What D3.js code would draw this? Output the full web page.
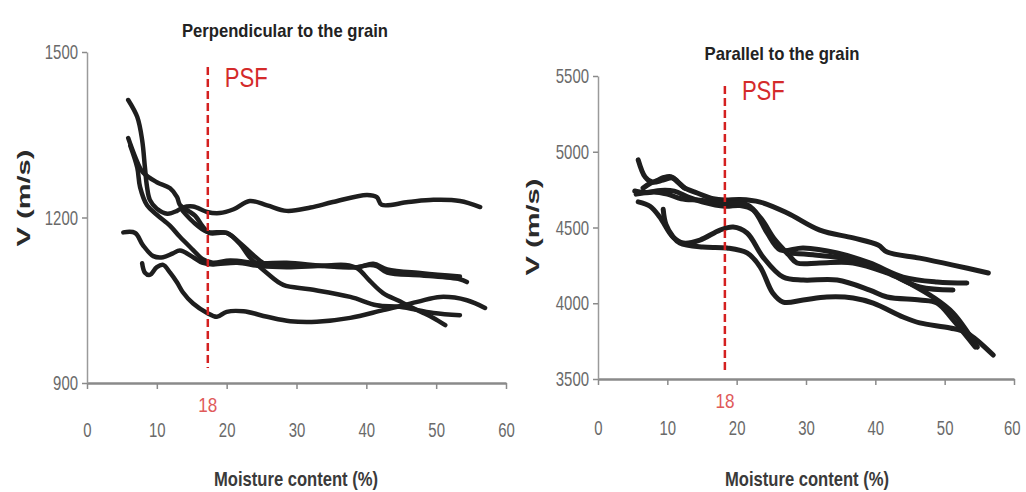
<!DOCTYPE html>
<html>
<head>
<meta charset="utf-8">
<script src="https://cdn.jsdelivr.net/npm/d3@7"></script>
<style>
  html, body { margin: 0; padding: 0; background: #ffffff; }
  svg { display: block; }
</style>
</head>
<body>
<svg id="chart" width="1026" height="492"></svg>
<script>
// ---------- DATA ----------
const xTicks = [0, 10, 20, 30, 40, 50, 60];
const leftYTicks = [900, 1200, 1500];
const rightYTicks = [3500, 4000, 4500, 5000, 5500];
const leftTitle = "Perpendicular to the grain";
const rightTitle = "Parallel to the grain";
const xAxisTitle = "Moisture content (%)";
const yAxisTitle = "V (m/s)";
const psfLabel = "PSF";
const psfValueLabel = "18";
const psfLeftX = 17.3;
const psfRightX = 18.3;

// Perpendicular to the grain — each series is [moisture %, velocity m/s]
const perp1 = [[5.9,1413],[7.2,1382],[7.9,1340],[8.3,1290],[8.6,1255],[9.0,1232],[10.0,1216],[11.5,1207],[12.9,1212],[13.7,1218],[15.2,1220],[17.2,1210],[19.0,1208],[21,1215],[23.3,1230],[25.8,1222],[28.6,1212],[32,1218],[35.2,1228],[40.1,1241],[41.5,1237],[42.2,1223],[46,1228],[49.6,1232],[53.4,1230],[56.3,1219]];
const perp2 = [[5.9,1344],[6.9,1310],[8.0,1282],[10.0,1264],[11.9,1253],[12.9,1237],[13.3,1223],[14.5,1212],[15.5,1203],[16.5,1185],[17.5,1172],[20.0,1172],[21.9,1154],[23.8,1132],[25.8,1114],[29.5,1114],[35,1112],[38.7,1110],[40.5,1114],[41.5,1112],[43,1100],[48,1095],[53.4,1088],[54.4,1083]];
const perp3 = [[6.2,1330],[7.2,1290],[7.6,1255],[8.6,1222],[10.0,1205],[11.9,1185],[13.3,1165],[15.2,1141],[16.5,1125],[18,1118],[20.5,1122],[24.8,1117],[28.6,1118],[34,1112],[38.7,1110],[41,1116],[43,1106],[48,1099],[53.4,1093]];
const perp4 = [[5.2,1173],[6.9,1172],[8.0,1150],[9.5,1130],[10.9,1128],[12.3,1135],[13.3,1140],[15.2,1128],[16.5,1118],[18,1115],[21.5,1118],[24.8,1112],[28.6,1110],[33,1112],[37,1114],[38.7,1108],[40.5,1085],[42.4,1063],[44.8,1048],[46.3,1038],[48,1028],[49.6,1018],[51.3,1005]];
const perp5 = [[7.9,1117],[8.3,1100],[9.0,1096],[10.0,1110],[10.9,1114],[11.9,1100],[12.9,1082],[13.7,1065],[15.2,1044],[17.2,1027],[18.6,1020],[20.0,1029],[22.4,1030],[25.8,1020],[29.1,1012],[32.9,1011],[37.7,1018],[42.4,1032],[47.3,1047],[50.6,1056],[54.4,1050],[57,1036]];
const perp6 = [[13.7,1212],[15.2,1192],[17.2,1174],[20.0,1172],[21.9,1152],[23.3,1128],[25.8,1099],[28.1,1078],[31.9,1070],[37.7,1056],[41.5,1041],[44.8,1038],[49.6,1027],[53.4,1023]];

// Parallel to the grain
const para1 = [[5.8,4946],[6.8,4833],[7.8,4800],[9.4,4813],[10.8,4827],[12.3,4767],[14.3,4728],[16.6,4690],[18.3,4681],[20.5,4685],[23.4,4668],[27.3,4596],[32,4483],[36.8,4431],[40.4,4384],[41.7,4338],[46.4,4298],[51.2,4252],[56.3,4200]];
const para2 = [[5.3,4741],[7,4730],[9,4745],[11,4740],[13,4700],[15,4670],[18.3,4640],[20.5,4645],[22.4,4615],[24.4,4464],[26.3,4351],[29.6,4365],[34.5,4332],[39.2,4266],[44,4173],[48.9,4140],[53.2,4133]];
const para3 = [[5.5,4720],[8,4735],[10,4720],[12,4690],[14.7,4680],[18.3,4660],[21.5,4650],[23.5,4560],[25.5,4420],[27.5,4320],[28.7,4266],[32,4266],[36.8,4266],[41.7,4200],[46.4,4107],[51.2,4087]];
const para4 = [[5.8,4669],[7.5,4640],[8.9,4569],[10.8,4437],[12.3,4398],[14.7,4417],[17.6,4483],[19.5,4503],[21.5,4464],[23.8,4305],[26.7,4173],[29.6,4153],[34.5,4153],[39.2,4087],[41.7,4041],[46.4,4021],[48.9,4001],[51.2,3890],[54.4,3711]];
const para5 = [[9.4,4620],[9.8,4520],[10.8,4440],[11.8,4398],[15.1,4371],[18.6,4365],[21.5,4332],[23.4,4239],[25.2,4068],[26.7,4008],[29.6,4021],[33,4041],[36.8,4035],[39.7,4001],[44,3909],[46.4,3870],[50.8,3837],[53.2,3804],[57,3658]];
const para6 = [[28,4330],[31,4320],[35,4300],[39,4260],[42,4200],[45,4130],[48.3,4041],[51.2,3936],[54.7,3711]];
// thick blob of overlapping traces near the start of the parallel panel
const para7 = [[6.5,4760],[7.5,4790],[8.5,4810],[9.5,4830],[10.5,4835],[11.5,4800],[12.5,4760]];

// ---------- DRAWING ----------
const svg = d3.select("#chart");
const sans = "'Liberation Sans', Arial, sans-serif";

function fit(sel, perChar) {
  sel.each(function() {
    const t = d3.select(this);
    t.attr("textLength", t.text().length * perChar).attr("lengthAdjust", "spacingAndGlyphs");
  });
}

function drawPanel(cfg) {
  const g = svg.append("g");
  const x = d3.scaleLinear().domain([0, 60]).range([cfg.x0, cfg.x1]);
  const y = d3.scaleLinear().domain(cfg.yDomain).range([cfg.y0, cfg.y1]);

  // x axis
  const xAxis = g.append("g").attr("transform", `translate(0,${cfg.y0})`)
    .call(d3.axisBottom(x).tickValues(xTicks).tickFormat(d3.format("d"))
      .tickSize(6).tickPadding(cfg.xPad).tickSizeOuter(0));
  xAxis.select(".domain").attr("stroke", "#8a8a8a").attr("stroke-width", 2.5);
  xAxis.selectAll(".tick line").attr("stroke", "#8a8a8a").attr("stroke-width", 1.5);
  xAxis.selectAll(".tick text").attr("fill", "#6a6a6a").attr("font-family", sans).attr("font-size", 20)
    .call(fit, 8.3);
  if (cfg.lastLabelDx) {
    xAxis.selectAll(".tick text").filter(d => d === 60).attr("text-anchor", "end").attr("x", cfg.lastLabelDx);
  }

  // y axis
  const yAxis = g.append("g").attr("transform", `translate(${cfg.x0},0)`)
    .call(d3.axisLeft(y).tickValues(cfg.yTicks).tickFormat(d3.format("d"))
      .tickSize(5).tickPadding(4).tickSizeOuter(0));
  yAxis.select(".domain").attr("stroke", "#9a9a9a").attr("stroke-width", 1.5);
  yAxis.selectAll(".tick line").attr("stroke", "#8a8a8a").attr("stroke-width", 1.5);
  yAxis.selectAll(".tick text").attr("fill", "#6a6a6a").attr("font-family", sans).attr("font-size", 21)
    .call(fit, 8.3);

  // series
  const line = d3.line().x(d => x(d[0])).y(d => y(d[1])).curve(d3.curveCatmullRom.alpha(0.5));
  g.append("g").selectAll("path").data(cfg.series).join("path")
    .attr("d", line)
    .attr("fill", "none")
    .attr("stroke", "#1e1e1e")
    .attr("stroke-width", cfg.lineWidth)
    .attr("stroke-linejoin", "round")
    .attr("stroke-linecap", "round");

  // PSF dashed line
  g.append("line")
    .attr("x1", x(cfg.psf)).attr("x2", x(cfg.psf))
    .attr("y1", cfg.psfTop).attr("y2", cfg.psfBottom)
    .attr("stroke", "#d42020").attr("stroke-width", 2.5)
    .attr("stroke-dasharray", "8,4");
  g.append("text").text(psfLabel)
    .attr("x", x(cfg.psf) + 17).attr("y", cfg.psfTextY)
    .attr("fill", "#d42a2a").attr("font-family", sans).attr("font-size", 27)
    .attr("textLength", 43).attr("lengthAdjust", "spacingAndGlyphs");
  g.append("text").text(psfValueLabel)
    .attr("x", x(cfg.psf)).attr("y", cfg.psfValY)
    .attr("text-anchor", "middle")
    .attr("fill", "#e05a5a").attr("font-family", sans).attr("font-size", 21)
    .attr("textLength", 19).attr("lengthAdjust", "spacingAndGlyphs");

  // titles
  g.append("text").text(cfg.title)
    .attr("x", cfg.titleX).attr("y", cfg.titleY)
    .attr("text-anchor", "middle")
    .attr("fill", "#222").attr("font-family", sans).attr("font-weight", "bold").attr("font-size", 19)
    .attr("textLength", cfg.titleW).attr("lengthAdjust", "spacingAndGlyphs");
  g.append("text").text(xAxisTitle)
    .attr("x", cfg.xTitleX).attr("y", 486)
    .attr("text-anchor", "middle")
    .attr("fill", "#3a3a3a").attr("font-family", sans).attr("font-weight", "bold").attr("font-size", 21)
    .attr("textLength", 164).attr("lengthAdjust", "spacingAndGlyphs");
  g.append("text").text(yAxisTitle)
    .attr("transform", `translate(${cfg.yTitleX},${cfg.yTitleY}) rotate(-90)`)
    .attr("text-anchor", "middle")
    .attr("fill", "#2a2a2a").attr("font-family", sans)
    .attr("font-weight", "bold").attr("font-size", 19)
    .attr("textLength", 97).attr("lengthAdjust", "spacingAndGlyphs");
}

drawPanel({
  x0: 87, x1: 506, y0: 383, y1: 52,
  yDomain: [900, 1500], yTicks: leftYTicks,
  series: [perp1, perp2, perp3, perp4, perp5, perp6],
  lineWidth: 4.5, xPad: 34,
  psf: psfLeftX, psfTop: 67, psfBottom: 368, psfTextY: 87, psfValY: 412,
  title: leftTitle, titleX: 285, titleY: 37, titleW: 206,
  xTitleX: 296,
  yTitleX: 30, yTitleY: 198
});

drawPanel({
  x0: 598, x1: 1014, y0: 379, y1: 76,
  yDomain: [3500, 5500], yTicks: rightYTicks,
  series: [para1, para2, para3, para4, para5, para6, para7],
  lineWidth: 5, xPad: 36, lastLabelDx: 6,
  psf: psfRightX, psfTop: 86, psfBottom: 372, psfTextY: 100, psfValY: 408,
  title: rightTitle, titleX: 782, titleY: 60, titleW: 155,
  xTitleX: 807,
  yTitleX: 539, yTitleY: 227
});
</script>
</body>
</html>
